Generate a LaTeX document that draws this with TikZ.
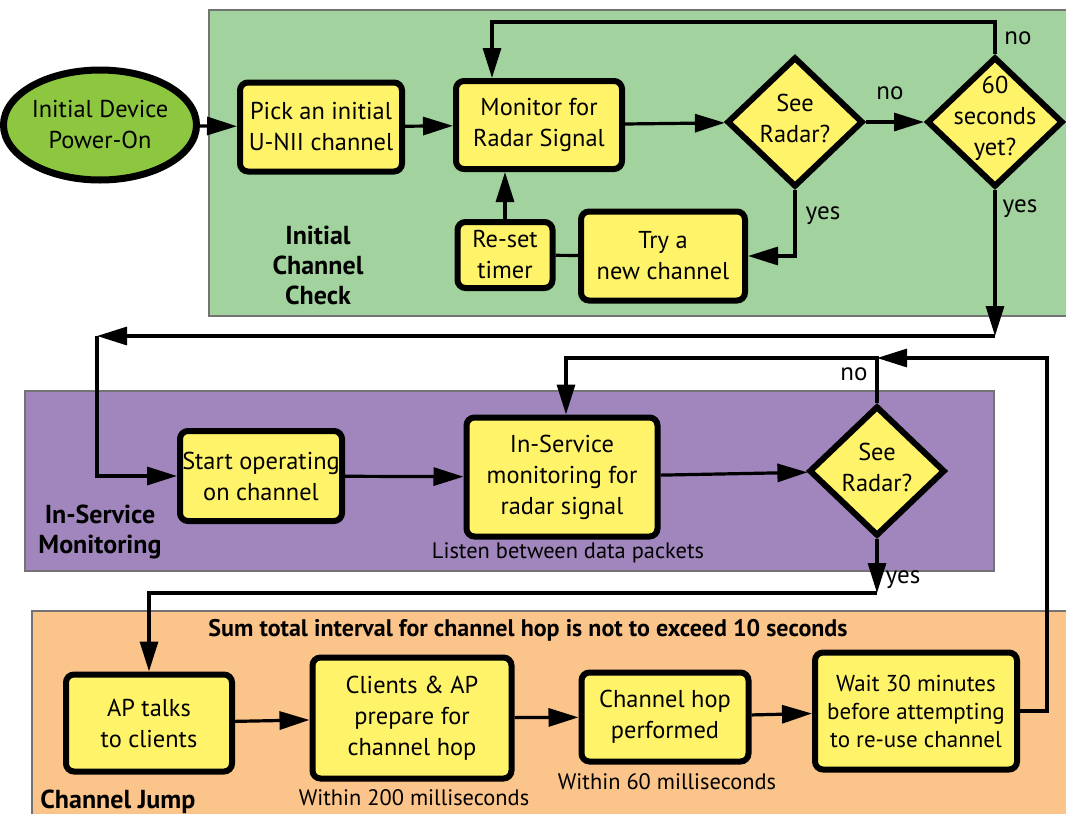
\documentclass[tikz,border=0pt]{standalone}
\usepackage{fontspec}
\setmainfont{PT Sans}
\usetikzlibrary{positioning, arrows.meta, shapes.geometric}

\definecolor{checkgreen}{HTML}{A2D39E}
\definecolor{servicepurple}{HTML}{A086BC}
\definecolor{jumporange}{HTML}{FAC48A}
\definecolor{boxyellow}{HTML}{FFF36A}
\definecolor{powergreen}{HTML}{8DC63F}

\newcommand{\boxfont}{\fontsize{12.2}{15.5}\selectfont}
\newcommand{\waitfont}{\fontsize{11.5}{14}\selectfont}
\newcommand{\notefont}{\fontsize{11.2}{14}\selectfont}
\newcommand{\answerfont}{\fontsize{12.5}{15}\selectfont}
\newcommand{\zonefont}{\fontsize{13}{15}\selectfont\bfseries}
\newcommand{\sumfont}{\fontsize{12}{14}\selectfont\bfseries}

\begin{document}
\begin{tikzpicture}[
    x=0.5pt, y=-0.5pt,
    zone/.style={draw=black!55, line width=0.6pt},
    stepbox/.style={
        rectangle,
        rounded corners=4pt,
        draw=black,
        line width=3pt,
        fill=boxyellow,
        align=center,
        font=\boxfont,
        inner sep=0pt
    },
    decision/.style={
        diamond,
        aspect=1,
        draw=black,
        line width=3pt,
        fill=boxyellow,
        minimum width=68pt,
        minimum height=65pt,
        inner sep=0pt
    },
    decisiontext/.style={align=center, font=\boxfont, inner sep=0pt, yshift=2pt},
    startnode/.style={
        ellipse,
        draw=black,
        line width=3.5pt,
        fill=powergreen,
        minimum width=87pt,
        minimum height=55pt,
        align=center,
        font=\boxfont,
        inner sep=0pt
    },
    zonelabel/.style={align=center, font=\zonefont, inner sep=0pt},
    note/.style={font=\notefont, inner sep=0pt},
    answer/.style={font=\answerfont, inner sep=0pt},
    line/.style={line width=1.6pt},
    arr/.style={
        line width=1.6pt,
        -{Triangle[length=15pt,width=9pt]}
    }
]

\useasboundingbox (0,0) rectangle (1066,814);
\clip (0,0) rectangle (1066,814);

% background zones
\fill[checkgreen, zone] (209,10) rectangle (1080,316);
\fill[servicepurple, zone] (25,391) rectangle (994,571);
\fill[jumporange, zone] (32,611) rectangle (1080,830);

% initial channel check
\node[startnode] (power) at (100,125) {Initial Device\\Power-On};
\node[stepbox, minimum width=81pt, minimum height=44.5pt] (pick) at (321,127) {Pick an initial\\U-NII channel};
\node[stepbox, minimum width=83pt, minimum height=44pt] (monitor) at (539,125) {Monitor for\\Radar Signal};
\node[decision, label={[decisiontext]center:See\\Radar?}] (radarA) at (795,122) {};
\node[decision, label={[decisiontext]center:60\\seconds\\yet?}] (sixty) at (995,122) {};
\node[stepbox, minimum width=47.5pt, minimum height=33pt] (reset) at (505,255) {Re-set\\timer};
\node[stepbox, minimum width=82pt, minimum height=44.5pt] (trynew) at (663,256) {Try a\\new channel};
\node[zonelabel] (checklbl) at (318,265) {Initial\\Channel\\Check};

% in-service monitoring
\node[stepbox, minimum width=81pt, minimum height=45pt] (start) at (261,476) {Start operating\\on channel};
\node[stepbox, minimum width=95.5pt, minimum height=59.5pt] (insvc) at (562,477) {In-Service\\monitoring for\\radar signal};
\node[decision, label={[decisiontext]center:See\\Radar?}] (radarB) at (877,471) {};
\node[note] (listen) at (568,553) {Listen between data packets};
\node[zonelabel] (svclbl) at (100,532) {In-Service\\Monitoring};

% channel jump
\node[zonelabel, font=\sumfont] (sumlbl) at (528,630) {Sum total interval for channel hop is not to exceed 10 seconds};
\node[stepbox, minimum width=83pt, minimum height=48.5pt] (aptalk) at (149,723) {AP talks\\to clients};
\node[stepbox, minimum width=99.5pt, minimum height=60.5pt] (prep) at (412,718) {Clients \& AP\\prepare for\\channel hop};
\node[stepbox, minimum width=83.5pt, minimum height=44.5pt] (hop) at (665,717) {Channel hop\\performed};
\node[stepbox, minimum width=101pt, minimum height=58.5pt, font=\waitfont] (wait) at (916,711) {Wait 30 minutes\\before attempting\\to re-use channel};
\node[note] (within200) at (414,798) {Within 200 milliseconds};
\node[note] (within60) at (667,782) {Within 60 milliseconds};
\node[zonelabel, anchor=west] (jumplbl) at (40,802) {Channel Jump};

% yes / no
\node[answer] (noA) at (890,93) {no};
\node[answer] (noB) at (1018,38) {no};
\node[answer] (yesA) at (823,216) {yes};
\node[answer] (yesB) at (1020,209) {yes};
\node[answer] (noC) at (854,374) {no};
\node[answer] (yesC) at (903,580) {yes};

% bends
\coordinate (loopA) at (492,22);
\coordinate (hopA) at (995,336);
\coordinate (hopB) at (97,336);
\coordinate (loopB) at (566,358);
\coordinate (loopC) at (1047,358);
\coordinate (jumpA) at (877,593);

\draw[arr] (power) -- (pick);
\draw[arr] (pick) -- (monitor);
\draw[arr] (monitor) -- (radarA);
\draw[arr] (radarA) -- (sixty);
\draw[arr] (sixty.north) |- (loopA) -- (loopA |- monitor.north);
\draw[arr] (radarA.south) |- (trynew.east);
\draw[line] (trynew) -- (reset);
\draw[arr] (reset.north) -- (reset.north |- monitor.south);
\draw[arr] (sixty.south) -- (hopA);
\draw[arr] (hopA) -- (hopB);
\draw[arr] (hopB) |- (start.west);
\draw[arr] (start) -- (insvc);
\draw[arr] (insvc) -- (radarB);
\draw[arr] (radarB.north) |- (loopB) -- (loopB |- insvc.north);
\draw[arr] (wait.east) -| (loopC) -- (loopC -| radarB.north);
\draw[arr] (radarB.south) -- (jumpA);
\draw[arr] (jumpA) -| (aptalk.north);
\draw[arr] (aptalk) -- (prep);
\draw[arr] (prep) -- (hop);
\draw[arr] (hop) -- (wait);

\end{tikzpicture}
\end{document}
